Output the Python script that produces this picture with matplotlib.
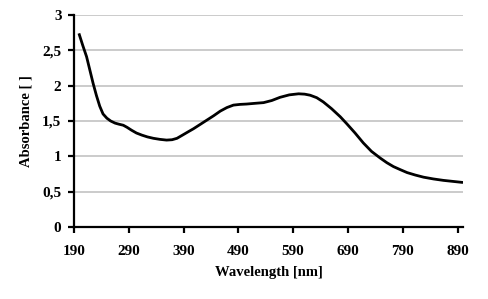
import matplotlib.pyplot as plt

plt.rcParams['font.family'] = 'Liberation Serif'
plt.rcParams['font.weight'] = 'bold'

wavelength = [199, 206, 213, 219, 225, 231, 237, 243, 250, 257, 265, 272, 280, 287,
              295, 304, 314, 324, 335, 347, 359, 369, 378, 388, 399, 408, 420, 432,
              445, 457, 469, 481, 493, 505, 520, 536, 551, 566, 583, 600, 611, 621,
              633, 645, 660, 676, 688, 703, 718, 733, 749, 761, 773, 786, 798, 813,
              828, 846, 864, 882, 900]
absorbance = [2.74, 2.57, 2.41, 2.22, 2.03, 1.86, 1.71, 1.60, 1.54, 1.50, 1.47, 1.455, 1.44, 1.41,
              1.37, 1.33, 1.30, 1.275, 1.255, 1.24, 1.23, 1.235, 1.255, 1.30, 1.35, 1.39, 1.45, 1.51,
              1.575, 1.64, 1.69, 1.725, 1.735, 1.74, 1.75, 1.76, 1.79, 1.835, 1.87, 1.885, 1.88, 1.865,
              1.83, 1.77, 1.675, 1.56, 1.46, 1.33, 1.19, 1.07, 0.975, 0.91, 0.855, 0.81, 0.77, 0.735,
              0.705, 0.68, 0.66, 0.645, 0.63]

x_ticks = [190, 290, 390, 490, 590, 690, 790, 890]
y_ticks = [0, 0.5, 1, 1.5, 2, 2.5, 3]
y_labels = ['0', '0,5', '1', '1,5', '2', '2,5', '3']

fig = plt.figure(figsize=(4.88, 2.99), dpi=100)
ax = fig.add_axes([0.1516, 0.2408, 0.7972, 0.709])

ax.plot(wavelength, absorbance, color='black', lw=2.0, solid_capstyle='butt')

ax.set_xlim(190, 900)
ax.set_ylim(0, 3)
ax.set_xticks(x_ticks)
ax.set_yticks(y_ticks)
ax.set_yticklabels(y_labels)
ax.grid(axis='y', color='#bdbdbd', lw=1.1)
ax.set_axisbelow(True)

for side in ['top', 'right']:
    ax.spines[side].set_visible(False)
for side in ['left', 'bottom']:
    ax.spines[side].set_linewidth(1.6)
ax.tick_params(direction='out', length=4, width=1.6, labelsize=11, pad=5)
ax.tick_params(axis='x', pad=9)

ax.set_xlabel('Wavelength [nm]', fontsize=10.5, fontweight='bold', labelpad=6)
ax.set_ylabel('Absorbance [ ]', fontsize=10.5, fontweight='bold', labelpad=7)

fig.savefig('out.png', dpi=100)
